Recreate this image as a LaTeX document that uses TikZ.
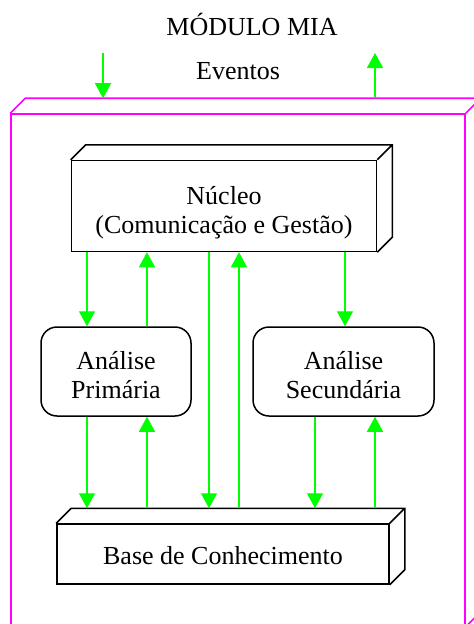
\documentclass[tikz,border=0pt]{standalone}
\usepackage{fontspec}
\setmainfont{Liberation Serif}
\usetikzlibrary{arrows.meta}
\definecolor{verde}{RGB}{0,255,0}
\definecolor{rosa}{RGB}{255,0,255}
% caixa com profundidade: cor, nome do no
\def\depthbox[#1](#2){\draw[#1] (#2.north west) -- ++(15,-15) -- ([shift={(15pt,15pt)}]#2.north east) -- ([shift={(15pt,15pt)}]#2.south east) -- (#2.south east) (#2.north east) -- ++(15,-15);}

\begin{document}
\begin{tikzpicture}[x=1pt,y=-1pt,
  every node/.style={font=\fontsize{26}{29}\selectfont},
  texto/.style={align=center, inner sep=0pt},
  bloco/.style={draw=black, line width=1.5pt, inner sep=0pt},
  analise/.style={draw=black, line width=1.5pt, rounded corners=16pt, inner sep=0pt},
  fluxo/.style={draw=verde, line width=1.4pt, -{Triangle[width=16pt,length=15pt]}}]
			%%%%% INICIO %%%%%
			\clip (0,0) rectangle (474,624);
			
			\node[anchor=base] (titulo) at (252,35) {MÓDULO MIA};
			\node[anchor=base] (eventos) at (238,79) {Eventos};
			
			% modulo exterior
			\node[draw=rosa, line width=1.6pt, minimum width=454pt, minimum height=512pt, inner sep=0pt] (modulo) at (238,370) {};
			\depthbox[rosa, line width=1.6pt](modulo)
			\coordinate (moduloback) at ([yshift=15pt]modulo.north);
			
			\node[bloco, minimum width=305pt, minimum height=91pt,
			  label={[texto, yshift=-7pt]center:Núcleo\\(Comunicação e Gestão)}] (nucleo) at (224,206) {};
			\depthbox[black, line width=1.5pt](nucleo)
			
			\node[analise, minimum width=150pt, minimum height=89pt,
			  label={[texto, yshift=-4pt]center:Análise\\Primária}] (primaria) at (116,371.5) {};
			\node[analise, minimum width=181pt, minimum height=89pt,
			  label={[texto, yshift=-4pt]center:Análise\\Secundária}] (secundaria) at (343.5,371.5) {};
			
			\node[bloco, minimum width=332pt, minimum height=60pt,
			  label={[texto, yshift=-2pt]center:Base de Conhecimento}] (base) at (223,554) {};
			\depthbox[black, line width=1.5pt](base)
			\coordinate (baseback) at ([yshift=15pt]base.north);
			
			% eventos
			\draw[fluxo] (103,53) -- (103,0 |- moduloback);
			\draw[fluxo] (375,0 |- moduloback) -- (375,53);
			
			% nucleo <-> analises
			\draw[fluxo] (87,0 |- nucleo.south) -- (87,0 |- primaria.north);
			\draw[fluxo] (147,0 |- primaria.north) -- (147,0 |- nucleo.south);
			\draw[fluxo] (345,0 |- nucleo.south) -- (345,0 |- secundaria.north);
			
			% nucleo <-> base
			\draw[fluxo] (209,0 |- nucleo.south) -- (209,0 |- baseback);
			\draw[fluxo] (239,0 |- baseback) -- (239,0 |- nucleo.south);
			
			% analises <-> base
			\draw[fluxo] (87,0 |- primaria.south) -- (87,0 |- baseback);
			\draw[fluxo] (147,0 |- baseback) -- (147,0 |- primaria.south);
			\draw[fluxo] (315,0 |- secundaria.south) -- (315,0 |- baseback);
			\draw[fluxo] (375,0 |- baseback) -- (375,0 |- secundaria.south);
			
			%%%%% FIM %%%%%
\end{tikzpicture}
\end{document}
